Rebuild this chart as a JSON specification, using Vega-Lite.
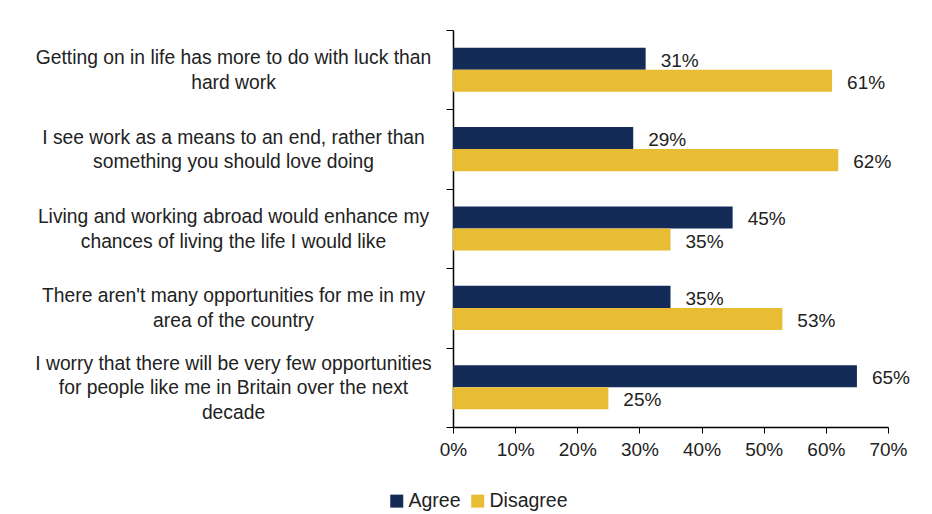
{
  "$schema": "https://vega.github.io/schema/vega-lite/v6.json",
  "autosize": "none",
  "width": 435,
  "height": 397,
  "padding": {"left": 453, "top": 30, "right": 44, "bottom": 87},
  "background": "white",
  "data": {
    "values": [
      {"statement": "Getting on in life has more to do with luck than|hard work", "response": "Agree", "value": 0.31},
      {"statement": "Getting on in life has more to do with luck than|hard work", "response": "Disagree", "value": 0.61},
      {"statement": "I see work as a means to an end, rather than|something you should love doing", "response": "Agree", "value": 0.29},
      {"statement": "I see work as a means to an end, rather than|something you should love doing", "response": "Disagree", "value": 0.62},
      {"statement": "Living and working abroad would enhance my|chances of living the life I would like", "response": "Agree", "value": 0.45},
      {"statement": "Living and working abroad would enhance my|chances of living the life I would like", "response": "Disagree", "value": 0.35},
      {"statement": "There aren't many opportunities for me in my|area of the country", "response": "Agree", "value": 0.35},
      {"statement": "There aren't many opportunities for me in my|area of the country", "response": "Disagree", "value": 0.53},
      {"statement": "I worry that there will be very few opportunities|for people like me in Britain over the next|decade", "response": "Agree", "value": 0.65},
      {"statement": "I worry that there will be very few opportunities|for people like me in Britain over the next|decade", "response": "Disagree", "value": 0.25}
    ]
  },
  "encoding": {
    "y": {
      "field": "statement",
      "type": "nominal",
      "sort": null,
      "scale": {"paddingInner": 0, "paddingOuter": 0},
      "axis": {
        "title": null,
        "labelExpr": "split(datum.label, '|')",
        "labelAlign": "center",
        "labelBaseline": "middle",
        "labelOffset": {"condition": {"test": "indexof('' + datum.value, 'decade') >= 0", "value": -24}, "value": -12},
        "labelPadding": 213,
        "labelFont": "Liberation Sans",
        "labelFontSize": 19.3,
        "labelLineHeight": 24.5,
        "labelColor": "#222222",
        "labelLimit": 500,
        "tickBand": "extent",
        "tickSize": 7,
        "tickColor": "#000000",
        "domainColor": "#000000",
        "domainWidth": 1.5,
        "grid": false
      }
    },
    "yOffset": {
      "field": "response",
      "type": "nominal",
      "sort": ["Agree", "Disagree"],
      "scale": {"paddingInner": 0, "paddingOuter": 0.8}
    },
    "x": {
      "field": "value",
      "type": "quantitative",
      "scale": {"domain": [0, 0.7], "nice": false},
      "axis": {
        "title": null,
        "format": ".0%",
        "values": [0, 0.1, 0.2, 0.3, 0.4, 0.5, 0.6, 0.7],
        "labelFlush": false,
        "labelFont": "Liberation Sans",
        "labelFontSize": 19,
        "labelColor": "#222222",
        "labelPadding": 7,
        "tickSize": 6,
        "tickColor": "#000000",
        "domainColor": "#000000",
        "domainWidth": 1.5,
        "grid": false
      }
    }
  },
  "layer": [
    {
      "mark": {"type": "bar"},
      "encoding": {
        "color": {
          "field": "response",
          "type": "nominal",
          "scale": {"domain": ["Agree", "Disagree"], "range": ["#132b56", "#e8bd34"]},
          "legend": {
            "title": null,
            "orient": "none",
            "direction": "horizontal",
            "legendX": -66,
            "legendY": 461,
            "symbolType": "square",
            "symbolSize": 169,
            "symbolStrokeWidth": 0,
            "labelFont": "Liberation Sans",
            "labelFontSize": 19.5,
            "labelColor": "#222222",
            "columnPadding": 7,
            "labelOffset": 2
          }
        }
      }
    },
    {
      "mark": {"type": "text", "align": "left", "baseline": "middle", "dx": 15, "dy": 2, "font": "Liberation Sans", "fontSize": 19, "color": "#222222"},
      "encoding": {
        "text": {"field": "value", "type": "quantitative", "format": ".0%"}
      }
    }
  ],
  "config": {"view": {"stroke": null}}
}
